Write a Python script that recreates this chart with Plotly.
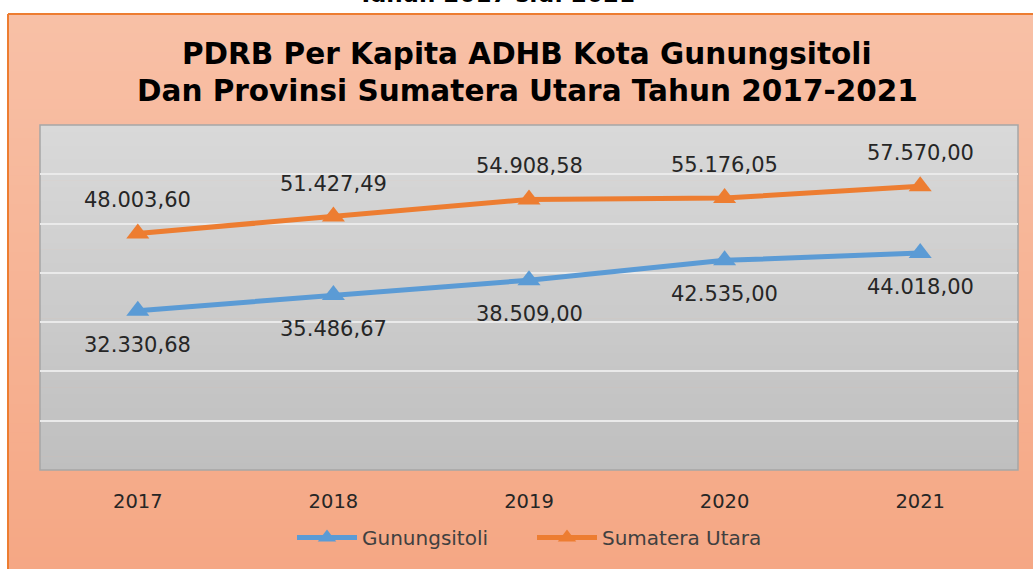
import plotly.graph_objects as go

# ---- data ----
years = ["2017", "2018", "2019", "2020", "2021"]
gunungsitoli = [32330.68, 35486.67, 38509.00, 42535.00, 44018.00]
sumatera_utara = [48003.60, 51427.49, 54908.58, 55176.05, 57570.00]
series_names = ["Gunungsitoli", "Sumatera Utara"]
title_lines = ["PDRB Per Kapita ADHB Kota Gunungsitoli",
               "Dan Provinsi Sumatera Utara Tahun 2017-2021"]
cut_text = "Tahun 2017 s.d. 2021"

W, H = 1033, 569
L, R, T, B = 40, 15, 125, 96
PW = W - L - R
PH = H - T - B


def px(xp):
    return (xp - L) / PW


def py(yp):
    return (H - B - yp) / PH


def fmt(v):
    s = f"{v:,.2f}"
    return s.replace(",", "X").replace(".", ",").replace("X", ".")


def lerp(c1, c2, t):
    return "rgb(%d,%d,%d)" % tuple(round(a + (b - a) * t) for a, b in zip(c1, c2))


shapes = []
# peach chart-area gradient
top_c, bot_c = (248, 192, 166), (245, 167, 132)
y0, y1 = 13, H + 20
n = 60
for i in range(n):
    a = y0 + (y1 - y0) * i / n
    b = y0 + (y1 - y0) * (i + 1) / n + 1
    shapes.append(dict(type="rect", xref="paper", yref="paper", layer="below",
                       x0=px(8), x1=px(W + 20), y0=py(a), y1=py(b),
                       fillcolor=lerp(top_c, bot_c, min(1, i / (n * (H - 13) / (H + 7)))),
                       line=dict(width=0)))
# orange border (top and left)
shapes.append(dict(type="line", xref="paper", yref="paper", layer="below",
                   x0=px(8), x1=px(W + 20), y0=py(13), y1=py(13),
                   line=dict(color="#ED7D31", width=2)))
shapes.append(dict(type="line", xref="paper", yref="paper", layer="below",
                   x0=px(8), x1=px(8), y0=py(13), y1=py(H + 20),
                   line=dict(color="#ED7D31", width=2)))
# plot-area gray gradient
g_top, g_bot = (217, 217, 217), (191, 191, 191)
n = 50
for i in range(n):
    a = T + PH * i / n
    b = T + PH * (i + 1) / n + 0.6
    shapes.append(dict(type="rect", xref="paper", yref="paper", layer="below",
                       x0=0, x1=1, y0=py(a), y1=py(min(b, T + PH)),
                       fillcolor=lerp(g_top, g_bot, i / (n - 1)), line=dict(width=0)))
shapes.append(dict(type="rect", xref="paper", yref="paper", layer="below",
                   x0=0, x1=1, y0=0, y1=1, line=dict(color="#A6A6A6", width=1.5)))

fig = go.Figure()
colors = ["#5B9BD5", "#ED7D31"]
for name, vals, col in zip(series_names, [gunungsitoli, sumatera_utara], colors):
    fig.add_trace(go.Scatter(
        x=years, y=vals, name=name, mode="lines+markers",
        line=dict(color=col, width=5),
        marker=dict(symbol="triangle-up", size=20, color=col),
    ))

annotations = []
label_font = dict(family="DejaVu Sans", size=21, color="#262626")
for i, v in enumerate(gunungsitoli):
    annotations.append(dict(x=i, y=v, xref="x", yref="y", text=fmt(v), showarrow=False,
                            yshift=-34, font=label_font))
for i, v in enumerate(sumatera_utara):
    annotations.append(dict(x=i, y=v, xref="x", yref="y", text=fmt(v), showarrow=False,
                            yshift=33, font=label_font))
# title lines
annotations.append(dict(x=px(527), y=py(53), xref="paper", yref="paper", text="<b>%s</b>" % title_lines[0],
                        showarrow=False, xanchor="center", yanchor="middle",
                        font=dict(family="DejaVu Sans", size=29.5, color="#000000")))
annotations.append(dict(x=px(527), y=py(91), xref="paper", yref="paper", text="<b>%s</b>" % title_lines[1],
                        showarrow=False, xanchor="center", yanchor="middle",
                        font=dict(family="DejaVu Sans", size=29.5, color="#000000")))
# cut-off heading at the very top
annotations.append(dict(x=px(496), y=py(8), xref="paper", yref="paper", text="<b>%s</b>" % cut_text,
                        showarrow=False, xanchor="center", yanchor="bottom",
                        font=dict(family="DejaVu Sans", size=23, color="#000000")))

fig.update_layout(
    width=W, height=H,
    margin=dict(l=L, r=R, t=T, b=B, pad=0),
    paper_bgcolor="#FFFFFF",
    plot_bgcolor="rgba(0,0,0,0)",
    shapes=shapes,
    annotations=annotations,
    showlegend=True,
    legend=dict(orientation="h", x=px(532), y=py(541), xanchor="center", yanchor="middle",
                bgcolor="rgba(0,0,0,0)", font=dict(family="DejaVu Sans", size=20, color="#404040"),
                itemwidth=60, entrywidth=165),
    xaxis=dict(type="category", range=[-0.5, 4.5], showgrid=False, zeroline=False,
               showline=False, ticks="", ticklabelstandoff=17,
               tickfont=dict(family="DejaVu Sans", size=19.5, color="#262626")),
    yaxis=dict(range=[0, 70000], dtick=10000, showgrid=True, gridcolor="#EAEAEA", gridwidth=2,
               zeroline=False, showticklabels=False, ticks="", showline=False),
)

fig.write_html("out.html", config={"displayModeBar": False},
               post_script="document.body.style.margin='0';document.body.style.overflow='hidden';")
